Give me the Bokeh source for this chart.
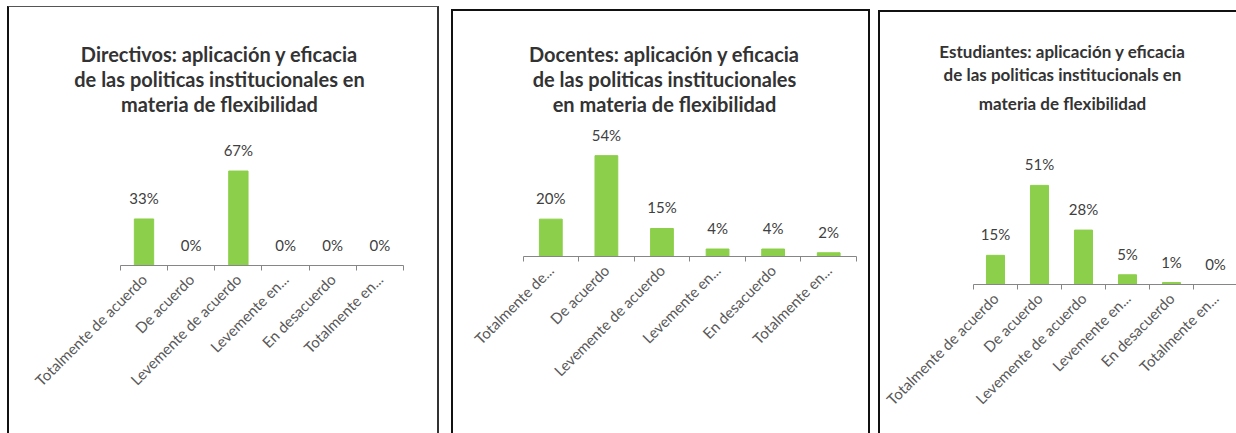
from math import pi
from bokeh.plotting import figure
from bokeh.models import Range1d, FixedTicker, Title, ColumnDataSource
from bokeh.layouts import row
from bokeh.core.properties import value
from bokeh.embed import file_html
from bokeh.resources import INLINE

# ---------------- data ----------------
cats_full = ["Totalmente de acuerdo", "De acuerdo", "Levemente de acuerdo",
             "Levemente en...", "En desacuerdo", "Totalmente en..."]
cats_docentes = ["Totalmente de...", "De acuerdo", "Levemente de acuerdo",
                 "Levemente en...", "En desacuerdo", "Totalmente en..."]

directivos = [33, 0, 67, 0, 0, 0]
docentes = [20, 54, 15, 4, 4, 2]
estudiantes = [15, 51, 28, 5, 1, 0]

title_directivos = ["Directivos: aplicación y eficacia",
                    "de las politicas institucionales en",
                    "materia de flexibilidad"]
title_docentes = ["Docentes: aplicación y eficacia",
                  "de las politicas institucionales",
                  "en materia de flexibilidad"]
title_estudiantes = ["Estudiantes: aplicación y eficacia",
                     "de las politicas institucionals en",
                     "materia de flexibilidad"]

GREEN = "#8CCF4A"
FONT = "Lato"


def panel(title_lines, cats, vals, width, height, ml, mr, mt, mb, xstart,
          ymax, tsize, standoffs, border, margin):
    n = len(cats)
    p = figure(width=width, height=height, output_backend="svg",
               toolbar_location=None, x_range=Range1d(xstart, n),
               y_range=Range1d(0, ymax), y_axis_location=None,
               min_border_left=ml, min_border_right=mr,
               min_border_top=mt, min_border_bottom=mb,
               outline_line_color=None, background_fill_color="white",
               border_fill_color="white")
    p.frame_align = False
    p.xgrid.visible = False
    p.ygrid.visible = False
    p.styles = border
    p.margin = margin

    xs = [i + 0.5 for i in range(n)]
    src = ColumnDataSource(dict(x=xs, v=vals, lab=[f"{v}%" for v in vals]))
    p.vbar(x="x", top="v", bottom=0, width=0.41, source=src,
           fill_color=GREEN, line_color=GREEN)
    p.text(x="x", y="v", text="lab", source=src, text_align="center",
           text_baseline="alphabetic", y_offset=-21,
           text_font=value(FONT), text_font_size="15px",
           text_color="#404040")

    ax = p.xaxis[0]
    ax.bounds = (0, n)
    ax.ticker = FixedTicker(ticks=xs, minor_ticks=list(range(n + 1)))
    ax.major_label_overrides = {x: c for x, c in zip(xs, cats)}
    ax.axis_line_color = "#868686"
    ax.major_tick_line_color = None
    ax.major_tick_out = 0
    ax.major_tick_in = 0
    ax.minor_tick_line_color = "#868686"
    ax.minor_tick_out = 5
    ax.minor_tick_in = 0
    ax.major_label_orientation = pi / 4
    ax.major_label_standoff = 6
    ax.major_label_text_font = FONT
    ax.major_label_text_font_size = "15px"
    ax.major_label_text_color = "#595959"

    for line, so in reversed(list(zip(title_lines, standoffs))):
        p.add_layout(Title(text=line, align="center", standoff=so,
                           text_font=FONT, text_font_size=tsize,
                           text_font_style="bold",
                           text_color="#333333"), "above")
    return p


b1 = {"border-top": "1px solid #555", "border-left": "2px solid #111",
      "border-right": "2px solid #333", "border-bottom": "none"}
b2 = {"border-top": "2px solid #111", "border-left": "2px solid #111",
      "border-right": "2px solid #111", "border-bottom": "none"}
b3 = {"border-top": "2px solid #111", "border-left": "2px solid #111",
      "border-right": "none", "border-bottom": "none"}

p1 = panel(title_directivos, cats_full, directivos, 432, 427,
           26, 38, 108, 169, -1.8, 106.4, "20px", [-1, -1, -1], b1,
           (6, 0, 0, 7))
p2 = panel(title_docentes, cats_docentes, docentes, 419, 424,
           19, 16, 104, 179, -0.909, 75.5, "20px", [-1, -1, -1], b2,
           (9, 0, 0, 12))
p3 = panel(title_estudiantes, cats_full, estudiantes, 358, 423,
           7, 1, 108, 151, -1.954, 84.4, "17px", [-1, 0, 13], b3,
           (10, 0, 0, 8))

layout = row(p1, p2, p3, spacing=0)
open("out.html", "w").write(file_html(layout, INLINE))
